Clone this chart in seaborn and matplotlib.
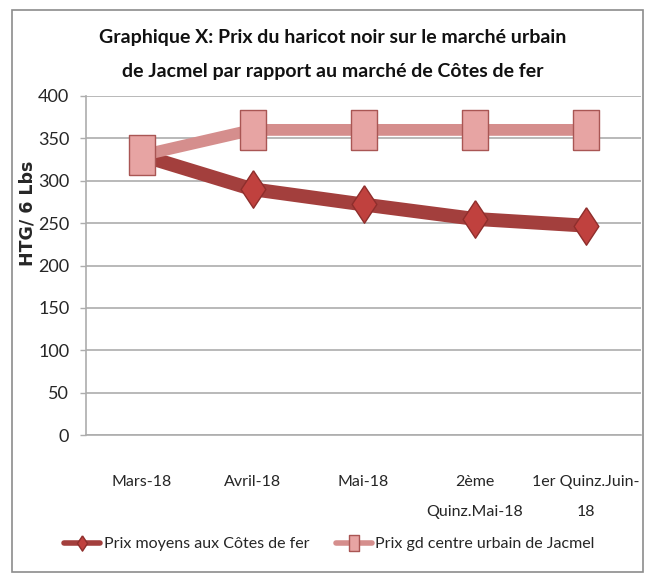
import matplotlib
matplotlib.use("Agg")
import matplotlib.pyplot as plt
import seaborn as sns
import pandas as pd
from matplotlib.lines import Line2D
from matplotlib.patches import Rectangle

# data
periodes = ["Mars-18", "Avril-18", "Mai-18", "2ème\nQuinz.Mai-18", "1er Quinz.Juin-\n18"]
prix_cotes_de_fer = [330, 290, 272, 255, 247]
prix_jacmel = [330, 360, 360, 360, 360]
serie_noms = ["Prix moyens aux Côtes de fer", "Prix gd centre urbain de Jacmel"]
y_ticks = [0, 50, 100, 150, 200, 250, 300, 350, 400]

W, H = 653, 582
DPI = 100

sns.set_style("white")
plt.rcParams['font.family'] = ['Lato', 'DejaVu Sans']

DARK = "#A33F3D"
DARK_FACE = "#C0413E"
LIGHT = "#D58E8D"
LIGHT_FACE = "#E7A4A3"
LIGHT_EDGE = "#A95654"
GRID = "#ADADAD"

# tall marker shapes like the Excel ones
diamond = [(0, 1), (0.66, 0), (0, -1), (-0.66, 0), (0, 1)]
rect = [(-0.65, -1), (0.65, -1), (0.65, 1), (-0.65, 1), (-0.65, -1)]

df = pd.DataFrame({"periode": periodes,
                   serie_noms[0]: prix_cotes_de_fer,
                   serie_noms[1]: prix_jacmel})

fig = plt.figure(figsize=(W / DPI, H / DPI), dpi=DPI)

# outer frame of the chart
fig.patches.append(Rectangle((12 / W, 1 - 572 / H), (643 - 12) / W, (572 - 10) / H,
                             transform=fig.transFigure, fill=False,
                             edgecolor="#8C8C8C", linewidth=1.2))

ax = fig.add_axes([86 / W, 1 - 435 / H, (641 - 86) / W, (435 - 96) / H])

sns.lineplot(data=df, x="periode", y=serie_noms[0], ax=ax, color=DARK,
             linewidth=10, marker=diamond, markersize=27,
             markerfacecolor=DARK_FACE, markeredgecolor="#8E2E2C",
             markeredgewidth=1, zorder=3, sort=False)
sns.lineplot(data=df, x="periode", y=serie_noms[1], ax=ax, color=LIGHT,
             linewidth=8.5, marker=rect, markersize=29,
             markerfacecolor=LIGHT_FACE, markeredgecolor=LIGHT_EDGE,
             markeredgewidth=1, zorder=4, sort=False)

ax.set_xlim(-0.5, len(periodes) - 0.5)
ax.set_ylim(0, 400)
ax.set_yticks(y_ticks)
ax.set_yticklabels([str(v) for v in y_ticks], fontsize=13)
ax.set_xticks(range(len(periodes)))
ax.set_xticklabels(periodes, fontsize=11.5, linespacing=2.45)
ax.set_xticks([i - 0.5 for i in range(len(periodes) + 1)], minor=True)
ax.tick_params(axis="x", which="major", length=0, pad=29)
ax.tick_params(axis="x", which="minor", length=7, width=1, color=GRID, direction="out")
ax.tick_params(axis="y", length=4, width=1, color=GRID, direction="out", pad=8, left=True)

ax.grid(axis="y", color=GRID, linewidth=1.2)
ax.set_axisbelow(True)
for s in ["top", "right"]:
    ax.spines[s].set_visible(False)
for s in ["left", "bottom"]:
    ax.spines[s].set_color(GRID)
    ax.spines[s].set_linewidth(1.2)
ax.set_xlabel("")
ax.set_ylabel("")

fig.text(28 / W, 1 - 213 / H, "HTG/ 6 Lbs", rotation=90, ha="center", va="center",
         fontsize=12.5, fontweight="bold", family="DejaVu Sans")

fig.text(333 / W, 1 - 37 / H, "Graphique X: Prix du haricot noir sur le marché urbain",
         ha="center", va="center", fontsize=14, fontweight="bold", color="#111111")
fig.text(333 / W, 1 - 71 / H, "de Jacmel par rapport au marché de Côtes de fer",
         ha="center", va="center", fontsize=14, fontweight="bold", color="#111111")

handles = [
    Line2D([], [], color=DARK, linewidth=4, marker=diamond, markersize=11,
           markerfacecolor=DARK_FACE, markeredgecolor="#8E2E2C"),
    Line2D([], [], color=LIGHT, linewidth=4, marker=rect, markersize=11,
           markerfacecolor=LIGHT_FACE, markeredgecolor=LIGHT_EDGE),
]
fig.legend(handles, serie_noms, loc="center left", bbox_to_anchor=(58 / W, 1 - 544 / H),
           ncol=2, frameon=False, fontsize=11.5, handlelength=2.25, handletextpad=0.2,
           columnspacing=1.7, borderaxespad=0)

fig.savefig("out.png", dpi=DPI)
